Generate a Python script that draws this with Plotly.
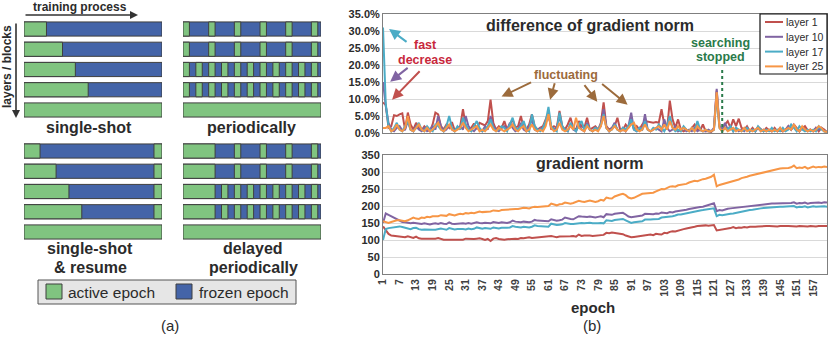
import plotly.graph_objects as go

W, H = 831, 339


def fx(p):
    return p / W


def fy(p):
    return 1 - p / H


FONT = "Liberation Sans, Arial, sans-serif"
C_L1, C_L10, C_L17, C_L25 = "#c0504d", "#8064a2", "#4bacc6", "#f79646"
GREEN, BLUE, EDGE = "#80c480", "#4464a8", "#3f3f3f"
TXT = "#2b2b2b"

# ---------------- data: (b) ----------------
epochs = list(range(1, 163))
epoch_ticks = [1, 7, 13, 19, 25, 31, 37, 43, 49, 55, 61, 67, 73, 79, 85, 91,
               97, 103, 109, 115, 121, 127, 133, 139, 145, 151, 157]

# difference of gradient norm (%)
diff_l1 = [9.0, 8.2, 1.5, 2.0, 5.2, 5.0, 5.5, 5.8, 1.0, 6.0,
           2.5, 1.0, 3.0, 1.5, 0.8, 2.0, 1.2, 0.5, 2.5, 6.0,
           5.5, 2.0, 1.0, 2.5, 1.5, 3.2, 0.8, 1.5, 2.0, 7.0,
           2.0, 1.0, 1.5, 2.8, 1.2, 3.0, 2.5, 2.2, 3.5, 9.8,
           3.0, 1.0, 2.0, 1.5, 3.5, 1.0, 2.5, 4.0, 1.5, 2.0,
           5.0, 1.5, 1.0, 2.5, 5.5, 2.0, 1.0, 1.5, 2.0, 4.0,
           6.0, 1.0, 2.0, 1.5, 6.5, 2.0, 1.0, 2.5, 4.5, 1.5,
           1.0, 3.5, 2.0, 1.5, 4.5, 1.0, 1.5, 2.0, 1.0, 3.0,
           9.0, 2.0, 1.0, 1.5, 2.0, 4.5, 1.0, 0.8, 2.5, 1.5,
           4.0, 1.0, 2.0, 1.0, 2.5, 3.5, 3.3, 3.3, 3.0, 3.2,
           3.0, 7.0, 2.5, 1.0, 9.5, 4.0, 1.5, 4.0, 1.0, 0.5,
           1.0, 0.5, 1.5, 2.5, 1.0, 0.8, 2.5, 0.5, 0.5, 0.3,
           1.0, 12.5, 2.0, 1.0, 2.5, 3.5, 1.5, 4.0, 2.0, 4.2,
           1.5, 1.0, 2.0, 0.5, 1.5, 0.5, 1.8, 1.0, 0.5, 1.5,
           0.8, 0.5, 1.5, 0.5, 0.8, 0.5, 1.0, 2.0, 1.0, 2.5,
           1.5, 0.5, 1.5, 2.0, 0.8, 1.0, 0.5, 1.5, 0.5, 1.5,
           1.0, 0.3]
diff_l10 = [15.0, 8.0, 3.0, 1.0, 0.5, 1.5, 2.0, 0.8, 1.0, 3.5,
            1.0, 0.5, 2.0, 1.0, 0.5, 1.5, 0.5, 1.0, 2.0, 1.0,
            5.0, 2.0, 0.5, 1.0, 2.5, 1.0, 0.5, 1.5, 2.0, 1.0,
            5.0, 2.0, 1.0, 0.5, 1.5, 1.0, 0.5, 2.0, 1.0, 5.0,
            2.0, 1.0, 0.5, 1.5, 2.0, 1.0, 3.0, 1.5, 0.5, 1.0,
            3.0, 1.0, 0.5, 2.0, 4.0, 1.0, 0.5, 1.5, 1.0, 3.0,
            5.0, 2.0, 1.0, 1.5, 5.0, 1.5, 1.0, 0.5, 2.5, 1.0,
            0.5, 2.5, 1.0, 0.5, 3.0, 1.0, 0.5, 1.5, 1.0, 2.0,
            7.0, 1.5, 0.5, 1.5, 3.0, 1.0, 0.5, 1.5, 0.5, 2.0,
            6.0, 1.0, 0.5, 1.5, 1.0, 5.5, 1.0, 0.5, 1.0, 1.5,
            1.0, 0.5, 4.0, 1.5, 0.5, 1.0, 2.0, 0.5, 1.0, 1.5,
            0.5, 1.0, 0.5, 1.5, 0.5, 1.0, 0.5, 0.5, 1.0, 0.5,
            1.5, 13.0, 2.0, 1.0, 3.0, 1.0, 2.0, 0.5, 1.5, 0.5,
            1.0, 0.5, 1.5, 0.5, 1.0, 0.5, 1.5, 0.5, 1.0, 0.5,
            1.0, 0.5, 1.0, 0.5, 1.5, 0.5, 1.0, 2.0, 1.0, 2.0,
            1.0, 0.5, 1.5, 1.0, 0.5, 1.0, 0.5, 1.5, 1.0, 1.5,
            0.5, 0.3]
diff_l17 = [31.0, 8.5, 2.0, 0.5, 1.5, 3.0, 1.0, 0.5, 2.0, 3.5,
            1.0, 0.5, 1.5, 3.0, 1.0, 0.5, 2.0, 1.0, 0.5, 2.5,
            2.0, 1.0, 0.5, 2.0, 5.0, 1.5, 0.5, 2.0, 1.0, 4.5,
            2.5, 1.0, 0.5, 2.0, 3.5, 1.5, 0.5, 1.0, 2.0, 4.0,
            1.5, 0.5, 1.0, 2.0, 1.5, 0.5, 2.5, 4.5, 1.5, 1.0,
            2.0, 3.5, 1.0, 0.5, 5.5, 2.0, 1.0, 0.5, 1.5, 3.5,
            7.7, 2.0, 1.0, 0.5, 6.0, 2.0, 1.0, 0.5, 3.0, 1.5,
            0.5, 2.5, 3.5, 1.0, 2.5, 1.0, 0.5, 1.5, 1.0, 2.5,
            5.5, 1.5, 0.5, 1.0, 2.5, 1.0, 0.5, 1.5, 1.0, 2.0,
            4.0, 1.0, 0.5, 1.5, 1.0, 3.5, 1.0, 0.5, 1.5, 1.0,
            2.5, 1.5, 0.5, 2.0, 5.0, 1.5, 0.5, 1.0, 0.5, 2.0,
            1.0, 0.5, 1.5, 0.5, 3.5, 1.0, 0.5, 1.0, 0.5, 0.5,
            1.0, 11.0, 1.5, 0.5, 1.5, 1.0, 2.0, 0.5, 1.5, 1.0,
            0.5, 1.0, 1.5, 0.5, 1.0, 0.5, 2.0, 1.0, 0.5, 1.0,
            0.5, 1.5, 0.5, 1.0, 0.5, 1.5, 0.5, 1.0, 2.5, 1.5,
            0.5, 2.0, 1.0, 0.5, 1.0, 0.5, 1.0, 0.5, 2.0, 1.0,
            0.5, 0.3]
diff_l25 = [1.5, 1.5, 2.0, 0.5, 1.0, 2.5, 1.0, 0.5, 1.5, 5.0,
            1.0, 0.5, 1.5, 2.5, 1.0, 0.5, 1.5, 0.5, 1.0, 2.0,
            3.0, 1.0, 0.5, 1.5, 2.5, 1.0, 0.5, 1.0, 1.5, 3.0,
            1.5, 0.5, 1.0, 1.5, 2.0, 0.5, 1.0, 0.5, 1.5, 2.5,
            1.0, 0.5, 1.5, 1.0, 0.5, 1.0, 1.5, 2.5, 1.0, 0.5,
            1.5, 2.0, 0.5, 1.0, 2.5, 1.0, 0.5, 1.0, 0.5, 2.0,
            5.5, 1.5, 0.5, 1.0, 3.0, 1.0, 0.5, 1.0, 2.0, 1.0,
            4.5, 1.5, 1.0, 0.5, 2.0, 1.0, 0.5, 1.0, 0.5, 2.0,
            5.0, 1.5, 0.5, 1.0, 2.0, 1.0, 0.5, 1.0, 0.5, 1.5,
            2.5, 3.0, 1.0, 0.5, 1.0, 2.5, 1.0, 0.5, 1.0, 1.5,
            2.0, 1.0, 2.5, 1.0, 3.5, 1.5, 1.0, 2.0, 1.0, 1.5,
            1.0, 0.5, 1.5, 0.5, 2.0, 1.0, 0.5, 1.0, 0.5, 0.5,
            1.0, 12.0, 1.5, 0.5, 1.5, 0.5, 1.0, 1.5, 0.5, 1.0,
            0.5, 1.5, 0.5, 1.0, 0.5, 1.0, 1.5, 0.5, 1.0, 0.5,
            1.0, 0.5, 1.0, 0.5, 1.5, 0.5, 1.0, 1.5, 1.0, 2.5,
            1.0, 0.5, 2.0, 1.0, 0.5, 1.0, 0.5, 1.0, 2.0, 1.5,
            0.5, 0.3]

# gradient norm
gn_l1 = [140, 128, 118, 113, 112, 110, 111, 110, 108, 111,
         108, 106, 110, 105, 104, 104, 103, 103, 104, 104,
         106, 103, 101, 101, 101, 101, 102, 100, 101, 101,
         104, 103, 104, 103, 104, 105, 103, 100, 103, 97,
         104, 106, 103, 101, 101, 102, 103, 104, 104, 103,
         106, 105, 106, 108, 106, 107, 107, 108, 108, 110,
         111, 112, 110, 108, 110, 110, 109, 110, 111, 112,
         110, 116, 112, 113, 114, 113, 112, 113, 114, 116,
         115, 121, 120, 122, 121, 120, 118, 117, 113, 110,
         108, 109, 110, 112, 111, 114, 115, 116, 114, 118,
         117, 116, 121, 120, 124, 126, 125, 128, 130, 132,
         134, 135, 137, 139, 141, 142, 143, 143, 142, 142,
         144, 128, 129, 130, 132, 133, 135, 138, 135, 137,
         136, 138, 137, 139, 138, 139, 140, 141, 140, 141,
         141, 140, 141, 140, 141, 140, 141, 141, 140, 141,
         140, 141, 140, 139, 140, 141, 140, 140, 141, 141,
         140, 141]
gn_l10 = [150, 178, 174, 170, 167, 163, 158, 153, 152, 150,
          149, 151, 149, 148, 147, 149, 147, 146, 148, 149,
          147, 150, 148, 147, 152, 148, 147, 148, 150, 149,
          148, 150, 148, 149, 152, 150, 149, 151, 150, 149,
          153, 151, 150, 152, 151, 150, 152, 157, 154, 153,
          152, 154, 153, 152, 154, 159, 157, 157, 156, 157,
          155, 161, 158, 157, 158, 160, 166, 163, 162, 161,
          166, 170, 169, 168, 168, 169, 167, 166, 168, 170,
          167, 176, 175, 174, 177, 178, 179, 180, 175, 169,
          167, 168, 169, 170, 172, 177, 176, 175, 176, 178,
          177, 181, 180, 179, 182, 181, 184, 185, 185, 187,
          189, 191, 193, 194, 196, 197, 198, 200, 202, 204,
          208, 185, 188, 187, 190, 192, 193, 194, 196, 197,
          198, 199, 200, 201, 202, 203, 204, 205, 205, 206,
          206, 207, 207, 207, 208, 208, 209, 208, 209, 211,
          207, 209, 208, 210, 207, 209, 210, 209, 210, 209,
          211, 210]
gn_l17 = [100, 132, 135, 136, 138, 140, 140, 138, 136, 133,
          132, 135, 136, 132, 130, 131, 130, 129, 130, 130,
          131, 134, 132, 130, 135, 132, 131, 132, 133, 132,
          131, 134, 132, 133, 137, 134, 133, 135, 134, 133,
          137, 135, 134, 136, 135, 136, 137, 141, 139, 138,
          137, 139, 138, 137, 139, 143, 141, 141, 140, 141,
          139, 148, 145, 144, 145, 146, 150, 148, 147, 147,
          148, 151, 150, 149, 150, 151, 149, 148, 149, 150,
          149, 158, 157, 156, 159, 160, 161, 162, 158, 153,
          150, 152, 153, 154, 155, 160, 159, 160, 161, 162,
          162, 166, 167, 166, 169, 170, 172, 175, 175, 177,
          179, 181, 183, 184, 186, 187, 188, 189, 190, 191,
          193, 170, 174, 173, 175, 176, 177, 178, 180, 181,
          183, 184, 186, 188, 189, 191, 192, 193, 194, 195,
          196, 196, 197, 197, 198, 198, 199, 198, 199, 200,
          196, 198, 197, 199, 196, 198, 199, 198, 199, 198,
          199, 198]
gn_l25 = [155, 152, 150, 153, 156, 158, 158, 157, 155, 158,
          162, 166, 163, 162, 166, 165, 168, 167, 170, 169,
          170, 173, 172, 171, 176, 173, 172, 175, 177, 176,
          179, 178, 180, 179, 181, 184, 182, 183, 182, 184,
          187, 186, 185, 188, 189, 188, 190, 192, 191, 191,
          193, 195, 194, 193, 196, 198, 197, 198, 199, 201,
          200, 207, 204, 202, 205, 206, 210, 209, 207, 209,
          212, 215, 213, 212, 214, 216, 214, 212, 214, 218,
          216, 225, 223, 222, 228, 232, 234, 236, 232, 225,
          222, 224, 228, 232, 236, 237, 238, 240, 239, 243,
          246, 250, 249, 253, 257, 258, 257, 261, 262, 262,
          265, 269, 271, 274, 273, 277, 279, 280, 283, 286,
          292, 258, 262, 264, 266, 269, 271, 273, 274, 278,
          282, 283, 286, 289, 291, 293, 295, 298, 299, 300,
          302, 304, 306, 308, 310, 311, 311, 312, 314, 319,
          311, 313, 312, 315, 310, 312, 316, 313, 315, 314,
          316, 315]

layer_names = ["layer 1", "layer 10", "layer 17", "layer 25"]
layer_colors = [C_L1, C_L10, C_L17, C_L25]
search_stop_epoch = 124

# ---------------- data: (a) freezing schedules (in time units) ----------------
total_units = 43
single_shot_freeze = [7, 12, 16, 20]
resume_freeze = [5, 10, 14, 18]
resume_restart = 40.5
periodic_long = [(0, 2), (8, 10), (16, 18), (24, 26), (32, 34), (40, 42)]
periodic_short = [(0, 2), (4, 6), (8, 10), (12, 14), (16, 18), (20, 22),
                  (24, 26), (28, 30), (32, 34), (36, 38), (40, 42)]
delayed_long = [(0, 10), (16, 18), (24, 26), (32, 34), (40, 42)]
delayed_short = [(0, 10), (12, 14), (16, 18), (20, 22), (24, 26),
                 (28, 30), (32, 34), (36, 38), (40, 42)]

groups = [
    # (active intervals per row, x pixel span, y pixel span of rows)
    ([[(0, f)] for f in single_shot_freeze], (24, 162), (18.9, 120.1)),
    ([periodic_long, periodic_long, periodic_short, periodic_short], (183, 321), (18.9, 120.1)),
    ([[(0, f), (resume_restart, total_units)] for f in resume_freeze], (24, 162), (140.9, 242.1)),
    ([delayed_long, delayed_long, delayed_short, delayed_short], (183, 321), (140.9, 242.1)),
]

fig = go.Figure()

# (b) lines
for ys, name, col in zip([diff_l1, diff_l10, diff_l17, diff_l25], layer_names, layer_colors):
    fig.add_trace(go.Scatter(x=epochs, y=ys, mode="lines", name=name,
                             line=dict(color=col, width=2), xaxis="x", yaxis="y"))
for ys, name, col in zip([gn_l1, gn_l10, gn_l17, gn_l25], layer_names, layer_colors):
    fig.add_trace(go.Scatter(x=epochs, y=ys, mode="lines", name=name,
                             line=dict(color=col, width=2), xaxis="x2", yaxis="y2"))

# (a) bars
for k, (rows, _, _) in enumerate(groups, start=3):
    fig.add_trace(go.Bar(orientation="h", y=[0, 1, 2, 3], x=[total_units] * 4, base=[0] * 4,
                         width=0.7, marker=dict(color=BLUE, line=dict(color=EDGE, width=1)),
                         xaxis=f"x{k}", yaxis=f"y{k}"))
    gy, gb, gx = [], [], []
    for r, segs in enumerate(rows):
        for s, e in segs:
            gy.append(r)
            gb.append(s)
            gx.append(e - s)
    gy.append(4)
    gb.append(0)
    gx.append(total_units)
    fig.add_trace(go.Bar(orientation="h", y=gy, x=gx, base=gb, width=0.7,
                         marker=dict(color=GREEN, line=dict(color=EDGE, width=1)),
                         xaxis=f"x{k}", yaxis=f"y{k}"))

tickfont = dict(family=FONT, size=11, color=TXT, weight="bold")
frame = dict(zeroline=False, showline=True, mirror=True, linecolor="#7f7f7f",
             linewidth=1, ticks="", automargin=False)
layout = dict(
    width=W, height=H, margin=dict(l=0, r=0, t=0, b=0, autoexpand=False),
    paper_bgcolor="white", plot_bgcolor="white", showlegend=False,
    barmode="overlay", font=dict(family=FONT, color=TXT),
    xaxis=dict(domain=[fx(383), fx(827)], range=[1, 162], showticklabels=False,
               showgrid=False, anchor="y", **frame),
    yaxis=dict(domain=[fy(133), fy(14)], range=[0, 35], dtick=5, tickformat=".1f",
               ticksuffix="%", gridcolor="#d9d9d9", tickfont=tickfont, anchor="x", **frame),
    xaxis2=dict(domain=[fx(383), fx(827)], range=[1, 162], tickvals=epoch_ticks,
                tickangle=-90, tickfont=dict(family=FONT, size=10.5, color="#404040", weight="bold"),
                showgrid=False, anchor="y2", **frame),
    yaxis2=dict(domain=[fy(274), fy(155)], range=[0, 350], dtick=50,
                gridcolor="#d9d9d9", tickfont=tickfont, anchor="x2", **frame),
)
for k, (_, (x0, x1), (y0, y1)) in enumerate(groups, start=3):
    layout[f"xaxis{k}"] = dict(domain=[fx(x0), fx(x1)], range=[0, total_units], visible=False,
                               fixedrange=True, automargin=False, anchor=f"y{k}")
    layout[f"yaxis{k}"] = dict(domain=[fy(y1), fy(y0)], range=[4.5, -0.5], visible=False,
                               fixedrange=True, automargin=False, anchor=f"x{k}")
fig.update_layout(**layout)

ann = []
shapes = []


def text(x, y, s, size, color=TXT, bold=True, xanchor="center", **kw):
    ann.append(dict(x=fx(x), y=fy(y), xref="paper", yref="paper", text=s, showarrow=False,
                    xanchor=xanchor, yanchor="middle",
                    font=dict(family=FONT, size=size, color=color,
                              weight="bold" if bold else "normal"), **kw))


def pbox(x0, y0, x1, y1, fill, line):
    shapes.append(dict(type="rect", xref="paper", yref="paper", x0=fx(x0), x1=fx(x1),
                       y0=fy(y1), y1=fy(y0), fillcolor=fill, line=line))


# (a) texts
text(80, 7, "training process", 12)
ann.append(dict(x=fx(138), y=fy(15), xref="paper", yref="paper", ax=-114, ay=0, text="",
                showarrow=True, arrowhead=2, arrowsize=1, arrowwidth=1.6, arrowcolor="#333"))
text(7, 67, "layers / blocks", 12, textangle=-90)
ann.append(dict(x=fx(16), y=fy(118), xref="paper", yref="paper", ax=0, ay=-96, text="",
                showarrow=True, arrowhead=2, arrowsize=1, arrowwidth=1.6, arrowcolor="#333"))
text(89, 127, "single-shot", 16)
text(251, 127, "periodically", 16)
text(90, 248, "single-shot", 16)
text(90, 267, "&amp; resume", 16)
text(253, 248, "delayed", 16)
text(253, 267, "periodically", 16)
pbox(38, 280, 296, 304, "#e6e6e6", dict(color="#555", width=1))
pbox(46, 284, 62, 299, GREEN, dict(color=EDGE, width=1))
pbox(176, 284, 192, 299, BLUE, dict(color=EDGE, width=1))
text(66, 292, "active epoch", 15.5, bold=False, xanchor="left")
text(197, 292, "frozen epoch", 15.5, bold=False, xanchor="left")
text(170, 325, "(a)", 15, bold=False)

# (b) texts
text(590, 25, "difference of gradient norm", 16)
text(590, 163, "gradient norm", 16)
text(593, 307, "epoch", 15)
text(592, 325, "(b)", 15, bold=False)

RED_T, BROWN, GREEN_T = "#c8283c", "#9c6b3c", "#2a7a4a"
text(425, 45, "fast", 12.5, RED_T)
text(425, 60, "decrease", 12.5, RED_T)
text(566, 75, "fluctuating", 12.5, BROWN)
text(720, 43, "searching", 12.5, GREEN_T)
text(720, 57, "stopped", 12.5, GREEN_T)


def arrow(ep, pct, ax, ay, color):
    ann.append(dict(x=ep, y=pct, xref="x", yref="y", ax=ax, ay=ay, text="", showarrow=True,
                    arrowhead=2, arrowsize=1.1, arrowwidth=2, arrowcolor=color))


arrow(3.2, 30.6, 19, 14, C_L17)
arrow(3.6, 15.1, 19, -15, C_L10)
arrow(4.3, 9.8, 29, -30, C_L1)
arrow(44, 10.7, 31, -15, BROWN)
arrow(61.6, 9.8, 5, -18, BROWN)
arrow(78.7, 9.2, -14, -18, BROWN)
arrow(89.7, 8.3, -27, -22, BROWN)

shapes.append(dict(type="line", xref="x", yref="y", x0=search_stop_epoch, x1=search_stop_epoch,
                   y0=0, y1=18.7, line=dict(color=GREEN_T, width=2, dash="dot")))

# (b) legend
pbox(760, 14, 827, 74, "white", dict(color="#111", width=1.2))
for i, (name, col) in enumerate(zip(layer_names, layer_colors)):
    yy = 22 + i * 14.8
    shapes.append(dict(type="line", xref="paper", yref="paper", x0=fx(765), x1=fx(783),
                       y0=fy(yy), y1=fy(yy), line=dict(color=col, width=2)))
    text(784, yy, name, 10.5, bold=False, xanchor="left")

fig.update_layout(annotations=ann, shapes=shapes)
# drop the browser's default page margin so the figure sits at the page origin
fig.write_html("out.html", config={"displayModeBar": False},
               post_script="document.body.style.margin='0';")
